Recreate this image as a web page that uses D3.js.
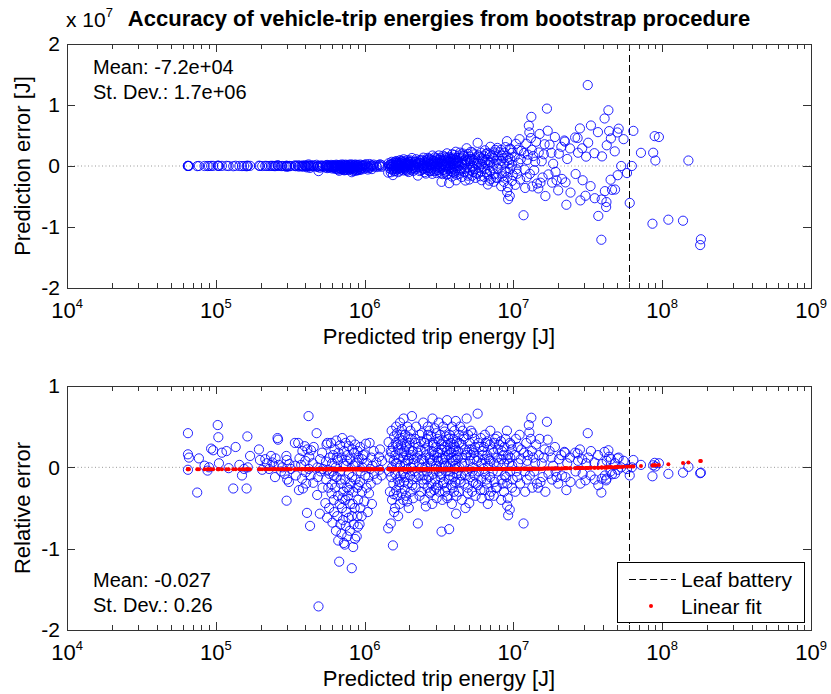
<!DOCTYPE html>
<html>
<head>
<meta charset="utf-8">
<script src="https://cdn.jsdelivr.net/npm/d3@7"></script>
<style>
  body { margin: 0; background: #fff; }
  text { font-family: "Liberation Sans", Arial, sans-serif; }
</style>
</head>
<body>
<script>
// trips as [predicted energy (J), relative error]; prediction error (J) = energy * relative error
var tripsShort = [
  [6.5e4,0.42],[6.5e4,0.16],[6.6e4,0.12],[6.5e4,-0.03],[7.5e4,-0.31],[7.7e4,0.11],[8.4e4,0.02],[8.8e4,-0.04],
  [9.0e4,0.00],[9.3e4,0.23],[9.6e4,0.21],[1.03e5,0.52],[1.04e5,0.37],[1.05e5,0.05],[1.10e5,0.18],[1.18e5,0.20],
  [1.22e5,-0.01],[1.31e5,-0.26],[1.36e5,0.25],[1.44e5,0.03],[1.50e5,-0.10],[1.55e5,-0.02],[1.61e5,-0.26],
  [1.63e5,0.38],[1.64e5,0.00],[1.70e5,0.14],[1.95e5,0.22],[1.98e5,0.09],[2.05e5,-0.03],[2.15e5,0.10],
  [2.20e5,0.05],[2.28e5,-0.02],[2.35e5,0.14],[2.40e5,0.06],[2.45e5,0.02],[2.50e5,-0.12],[2.52e5,0.11],
  [2.60e5,0.36],[2.62e5,0.34],[2.65e5,0.03],[2.75e5,-0.05],[2.80e5,0.00],[2.90e5,-0.08],[2.98e5,0.14],
  [3.00e5,0.09],[3.02e5,-0.15],[2.99e5,-0.41],[3.10e5,-0.18],[3.12e5,0.04],[3.20e5,-0.02]
];

var tripsMedium = [
  [3.40e5,0.30],[3.42e5,0.02],[3.45e5,-0.10],[3.58e5,0.30],[3.62e5,-0.28],[3.65e5,0.11],
  [3.75e5,0.03],[3.80e5,-0.14],[3.82e5,0.20],[3.85e5,-0.26],[3.96e5,0.26],[4.00e5,0.08],[4.02e5,-0.06],[4.05e5,-0.20],
  [4.10e5,-0.56],[4.12e5,0.22],[4.20e5,0.63],[4.22e5,-0.02],[4.25e5,0.13],[4.30e5,-0.72],[4.33e5,-0.10],[4.36e5,0.21],
  [4.48e5,0.05],[4.52e5,-0.19],[4.55e5,0.25],[4.76e5,0.42],[4.80e5,-0.34],[4.82e5,0.00],[4.85e5,-0.12],[4.90e5,-1.71],
  [5.00e5,-0.57],[5.02e5,0.10],[5.05e5,-0.05],[5.18e5,0.18],[5.22e5,-0.25],[5.25e5,-0.02],
  [5.45e5,-0.44],[5.50e5,0.07],[5.52e5,-0.15],[5.55e5,0.28],[5.60e5,-0.62],[5.62e5,0.30],[5.65e5,-0.03],
  [5.78e5,-0.50],[5.80e5,-0.08],[5.84e5,0.12],[5.95e5,0.30],[6.00e5,-0.32],[6.02e5,-0.21],[6.05e5,0.05],[6.08e5,-0.68],
  [6.15e5,0.15],[6.20e5,-0.40],[6.22e5,-0.10],[6.25e5,-0.55],[6.28e5,0.22],
  [6.35e5,-0.25],[6.40e5,0.00],[6.42e5,-0.78],[6.45e5,0.33],[6.48e5,-0.12],
  [6.55e5,-0.60],[6.60e5,0.09],[6.62e5,-0.35],[6.65e5,-0.90],[6.68e5,0.18],
  [6.75e5,-1.16],[6.80e5,-0.45],[6.82e5,-0.05],[6.85e5,0.27],[6.88e5,-0.70],
  [6.95e5,-0.20],[7.00e5,-0.82],[7.02e5,0.12],[7.05e5,-0.50],[7.08e5,0.36],
  [7.15e5,-0.65],[7.20e5,-0.30],[7.22e5,0.04],[7.25e5,-0.93],[7.28e5,0.20],
  [7.35e5,-0.95],[7.40e5,-0.15],[7.42e5,-0.40],[7.45e5,0.30],[7.48e5,-0.72],
  [7.55e5,-0.55],[7.60e5,0.08],[7.62e5,-0.25],[7.65e5,-0.85],[7.68e5,0.15],
  [7.75e5,-0.35],[7.80e5,-0.62],[7.82e5,0.26],[7.85e5,-0.08],
  [7.95e5,-0.78],[8.00e5,-0.45],[8.02e5,0.10],[8.05e5,-0.20],[8.08e5,0.33],
  [8.20e5,-1.24],[8.22e5,-0.60],[8.25e5,-0.12],[8.28e5,0.22],
  [8.38e5,-0.98],[8.40e5,-0.30],[8.42e5,0.02],[8.45e5,-0.70],[8.48e5,0.18],
  [8.58e5,-0.50],[8.62e5,-0.88],[8.65e5,0.28],[8.68e5,-0.15],
  [8.85e5,-0.85],[8.90e5,-0.25],[8.92e5,0.06],[8.95e5,-0.60],[8.98e5,0.20],
  [9.02e5,-0.73],[9.05e5,-0.40],[9.08e5,0.12],[9.25e5,-0.70],[9.30e5,-0.18],[9.33e5,0.25],[9.36e5,-0.50],
  [9.55e5,-0.60],[9.60e5,-0.30],[9.62e5,0.10],[9.65e5,0.00],
  [9.95e5,-0.42],[1.00e6,0.16],[1.01e6,-0.10],[1.02e6,0.29],[1.03e6,-0.25],[1.04e6,0.05],[1.05e6,-0.55],
  [1.07e6,-0.32],[1.08e6,0.30],[1.09e6,-0.02],[1.10e6,-0.20],[1.11e6,0.12],[1.12e6,-0.45],
  [1.15e6,0.20],[1.16e6,-0.08],[1.20e6,0.06],[1.21e6,-0.15],[1.25e6,0.13],[1.26e6,-0.03],[1.27e6,0.22],
  [1.30e6,-0.10],[1.31e6,0.08],
  [5.70e5,-0.25],[6.10e5,-0.05],[6.50e5,0.12],[6.90e5,-0.15],[7.10e5,-0.38],[7.50e5,0.02],[7.90e5,-0.28],
  [8.30e5,-0.45],[8.70e5,0.05],[9.10e5,-0.22],[9.40e5,-0.05],[9.80e5,0.15],[1.06e6,-0.12],[1.13e6,0.02]
];

var tripsLong = [
  [1.44e6,-0.75],[1.45e6,0.31],[1.46e6,-0.05],[1.47e6,0.12],[1.48e6,-0.30],
  [1.50e6,-0.69],[1.50e6,0.20],[1.51e6,-0.12],[1.52e6,0.45],[1.53e6,0.00],[1.53e6,-0.40],
  [1.55e6,-0.96],[1.55e6,0.25],[1.56e6,-0.20],[1.57e6,0.08],[1.58e6,-0.55],[1.58e6,0.38],
  [1.60e6,-0.50],[1.61e6,0.15],[1.61e6,-0.08],[1.62e6,0.30],[1.63e6,-0.28],[1.63e6,0.50],
  [1.65e6,0.42],[1.66e6,-0.35],[1.66e6,0.05],[1.67e6,-0.15],[1.68e6,0.22],[1.68e6,-0.60],
  [1.70e6,0.10],[1.71e6,-0.22],[1.71e6,0.35],[1.72e6,-0.45],[1.73e6,0.02],[1.73e6,0.55],
  [1.75e6,-0.10],[1.76e6,0.27],[1.77e6,-0.32],[1.78e6,0.18],[1.78e6,0.47],
  [1.80e6,0.33],[1.81e6,-0.05],[1.82e6,-0.40],[1.82e6,0.12],[1.83e6,0.60],[1.84e6,-0.18],
  [1.85e6,0.20],[1.86e6,-0.27],[1.87e6,0.40],[1.88e6,0.05],[1.88e6,-0.12],
  [1.90e6,-0.35],[1.91e6,0.15],[1.92e6,0.28],[1.93e6,-0.02],[1.94e6,0.50],
  [1.95e6,0.08],[1.96e6,-0.20],[1.97e6,0.37],[1.98e6,-0.50],[1.99e6,0.22],
  [2.00e6,0.30],[2.02e6,-0.10],[2.03e6,0.45],[2.04e6,-0.30],[2.05e6,0.00],[2.06e6,0.15],
  [2.08e6,0.63],[2.10e6,-0.15],[2.11e6,0.20],[2.12e6,-0.38],[2.14e6,0.10],
  [2.17e6,-0.05],[2.19e6,0.35],[2.20e6,-0.25],[2.22e6,0.50],[2.24e6,0.12],
  [2.28e6,-0.69],[2.30e6,0.25],[2.31e6,-0.10],[2.33e6,0.05],[2.35e6,0.40],
  [2.38e6,0.20],[2.40e6,-0.30],[2.42e6,0.10],[2.43e6,0.42],[2.45e6,-0.15],
  [2.48e6,0.55],[2.50e6,-0.20],[2.51e6,0.08],[2.53e6,-0.40],[2.54e6,0.30],[2.56e6,0.00],
  [2.58e6,-0.48],[2.60e6,0.15],[2.62e6,0.35],[2.63e6,-0.05],[2.65e6,-0.25],[2.66e6,0.50],
  [2.68e6,0.27],[2.70e6,-0.12],[2.72e6,0.45],[2.74e6,-0.32],[2.75e6,0.10],
  [2.78e6,0.05],[2.80e6,0.38],[2.81e6,-0.20],[2.83e6,0.20],[2.85e6,-0.45],[2.86e6,0.60],
  [2.88e6,0.30],[2.90e6,-0.08],[2.92e6,0.15],[2.94e6,-0.28],[2.96e6,0.48],
  [2.98e6,-0.15],[3.00e6,0.25],[3.02e6,0.02],[3.04e6,0.42],[3.05e6,-0.38],[3.07e6,0.12],
  [3.09e6,0.35],[3.11e6,-0.22],[3.13e6,0.08],[3.15e6,0.55],[3.16e6,-0.05],
  [3.18e6,-0.30],[3.20e6,0.18],[3.22e6,0.40],[3.24e6,-0.12],[3.25e6,0.00],[3.27e6,0.28],
  [3.29e6,-0.79],[3.31e6,0.22],[3.33e6,-0.40],[3.35e6,0.10],[3.37e6,0.50],
  [3.39e6,0.32],[3.41e6,-0.18],[3.43e6,0.05],[3.45e6,0.44],[3.47e6,-0.30],
  [3.49e6,0.12],[3.51e6,-0.05],[3.53e6,0.38],[3.55e6,-0.25],[3.57e6,0.20],[3.58e6,0.58],
  [3.60e6,-0.35],[3.62e6,0.28],[3.64e6,0.00],[3.66e6,0.15],[3.68e6,-0.15],
  [3.70e6,-0.76],[3.72e6,0.40],[3.74e6,-0.10],[3.76e6,0.22],[3.78e6,0.05],
  [3.80e6,0.30],[3.82e6,-0.22],[3.84e6,0.12],[3.86e6,-0.45],[3.88e6,0.50],
  [3.90e6,0.08],[3.93e6,0.35],[3.95e6,-0.12],[3.97e6,0.20],[3.99e6,-0.30],
  [4.01e6,0.45],[4.03e6,-0.02],[4.05e6,0.25],[4.07e6,-0.18],[4.09e6,0.10],
  [4.10e6,0.57],[4.12e6,-0.57],[4.14e6,0.15],[4.16e6,-0.08],[4.18e6,0.32],
  [4.25e6,0.20],[4.28e6,-0.30],[4.30e6,0.40],[4.33e6,0.00],[4.35e6,-0.15],[4.38e6,0.50],
  [4.45e6,-0.10],[4.48e6,0.28],[4.50e6,-0.40],[4.53e6,0.12],[4.56e6,0.45],
  [4.65e6,0.35],[4.68e6,-0.20],[4.70e6,0.05],[4.73e6,0.22],[4.76e6,-0.50],
  [4.85e6,0.60],[4.88e6,-0.05],[4.90e6,0.18],[4.93e6,-0.25],[4.96e6,0.40],
  [5.05e6,-0.44],[5.08e6,0.30],[5.10e6,0.08],[5.13e6,-0.12],[5.16e6,0.15],
  [5.25e6,0.22],[5.28e6,-0.30],[5.30e6,0.42],[5.33e6,0.00],[5.36e6,-0.18],
  [5.45e6,0.10],[5.48e6,0.35],[5.50e6,-0.10],[5.53e6,0.25],[5.56e6,-0.35],
  [5.75e6,0.66],[5.78e6,-0.22],[5.80e6,0.12],[5.83e6,0.30],[5.86e6,-0.05],
  [6.05e6,0.36],[6.08e6,-0.15],[6.10e6,0.05],[6.13e6,-0.38],[6.16e6,0.20],
  [6.35e6,0.25],[6.38e6,-0.28],[6.40e6,0.10],[6.43e6,0.40],[6.46e6,-0.08],
  [6.65e6,-0.20],[6.68e6,0.15],[6.70e6,0.32],[6.73e6,-0.45],[6.76e6,0.02],
  [6.95e6,0.28],[6.98e6,-0.12],[7.00e6,0.45],[7.03e6,0.08],[7.06e6,-0.30],
  [7.35e6,0.18],[7.38e6,-0.35],[7.40e6,0.05],[7.43e6,0.30],[7.46e6,-0.18],
  [7.75e6,-0.25],[7.78e6,0.12],[7.80e6,0.38],[7.83e6,-0.05],[7.86e6,0.22],
  [8.25e6,0.32],[8.28e6,-0.40],[8.30e6,0.10],[8.33e6,-0.15],[8.36e6,0.20],
  [8.65e6,-0.30],[8.68e6,0.05],[8.70e6,0.25],[8.73e6,-0.10],
  [9.05e6,0.45],[9.08e6,-0.47],[9.10e6,-0.20],[9.13e6,0.10],[9.18e6,-0.38],[9.20e6,0.15],[9.22e6,-0.59],
  [9.45e6,-0.52],[9.48e6,0.30],[9.50e6,-0.05],[9.53e6,0.12],[9.75e6,0.22],[9.78e6,-0.25],[9.80e6,0.02],
  [1.52e6,0.18],[1.57e6,-0.33],[1.62e6,0.05],[1.67e6,0.28],[1.72e6,-0.18],[1.77e6,0.40],[1.83e6,-0.08],
  [1.89e6,0.25],[1.93e6,-0.42],[1.99e6,0.10],[2.04e6,0.35],[2.09e6,-0.22],[2.13e6,0.05],[2.18e6,0.30],
  [2.23e6,-0.12],[2.27e6,0.18],[2.34e6,-0.35],[2.39e6,0.32],[2.44e6,0.00],[2.49e6,-0.10],[2.55e6,0.22],
  [2.61e6,-0.15],[2.67e6,0.40],[2.73e6,0.12],[2.79e6,-0.30],[2.84e6,0.08],[2.91e6,0.28],[2.97e6,-0.02],
  [3.03e6,-0.25],[3.10e6,0.18],[3.17e6,0.32],[3.23e6,-0.08],[3.30e6,0.12],[3.36e6,-0.20],[3.44e6,0.25],
  [3.52e6,0.02],[3.59e6,-0.38],[3.67e6,0.35],[3.75e6,-0.05],[3.83e6,0.18],[3.91e6,-0.25],[3.98e6,0.28],
  [4.06e6,0.02],[4.15e6,-0.35],[4.23e6,0.12],[4.32e6,0.30],[4.42e6,-0.18],[4.52e6,0.05],[4.62e6,0.38],
  [4.72e6,-0.10],[4.82e6,0.15],[4.95e6,-0.32],[5.06e6,0.22],[5.18e6,0.45],[5.31e6,-0.05],[5.42e6,0.18],
  [5.60e6,-0.20],[5.70e6,0.08],[5.92e6,0.25],[6.00e6,-0.28],[6.22e6,0.15],[6.30e6,-0.02],[6.52e6,0.30],
  [6.60e6,-0.15],[6.85e6,0.10],[6.90e6,-0.35],[7.15e6,0.22],[7.25e6,-0.05],[7.55e6,0.35],[7.62e6,-0.25],
  [7.95e6,0.05],[8.05e6,0.28],[8.45e6,-0.20],[8.55e6,0.15],[8.85e6,0.35],[8.95e6,-0.12],[9.35e6,0.05],
  [9.65e6,0.28],[9.90e6,-0.15]
];

var tripsVeryLong = [
  [1.02e7,0.15],[1.03e7,-0.30],[1.04e7,0.35],[1.06e7,-0.12],[1.07e7,0.25],[1.08e7,0.05],
  [1.10e7,0.40],[1.11e7,-0.20],[1.12e7,0.10],[1.17e7,-0.69],[1.18e7,0.18],[1.19e7,-0.05],
  [1.22e7,0.30],[1.23e7,-0.15],[1.24e7,0.08],[1.27e7,0.52],[1.28e7,0.43],[1.29e7,-0.10],
  [1.32e7,0.61],[1.33e7,0.20],[1.34e7,-0.25],[1.36e7,0.12],[1.38e7,-0.05],[1.42e7,0.28],[1.44e7,-0.20],
  [1.47e7,-0.25],[1.48e7,0.15],[1.50e7,0.35],[1.55e7,0.05],[1.57e7,-0.12],[1.62e7,0.22],[1.64e7,-0.30],
  [1.68e7,0.56],[1.70e7,0.34],[1.72e7,-0.08],[1.80e7,0.12],[1.82e7,-0.15],[1.90e7,0.25],[1.92e7,-0.05],
  [2.00e7,-0.20],[2.02e7,0.10],[2.10e7,0.15],[2.12e7,-0.10],[2.20e7,0.19],[2.22e7,0.18],[2.24e7,-0.12],
  [2.27e7,-0.28],[2.30e7,0.05],[2.40e7,0.12],[2.42e7,-0.18],[2.60e7,0.18],[2.62e7,-0.05],
  [2.70e7,0.17],[2.72e7,0.08],[2.80e7,0.22],[2.82e7,-0.20],[2.90e7,0.10],[2.92e7,-0.08],
  [3.05e7,-0.16],[3.08e7,0.05],[3.16e7,0.42],[3.18e7,0.12],[3.30e7,-0.10],[3.32e7,0.20],
  [3.50e7,0.06],[3.52e7,-0.15],[3.70e7,0.15],[3.72e7,-0.22],[3.90e7,-0.31],[3.92e7,-0.14],[3.94e7,0.04],
  [4.10e7,0.19],[4.12e7,-0.10],[4.20e7,-0.16],[4.22e7,-0.14],[4.24e7,0.08],[4.35e7,0.21],[4.40e7,0.13],
  [4.50e7,-0.05],[4.52e7,0.10],[4.60e7,-0.085],[4.80e7,0.05],[4.82e7,-0.08],[5.00e7,0.11],[5.02e7,-0.03],
  [5.10e7,0.12],[5.30e7,0.00],[5.50e7,0.08],[5.80e7,-0.02],
  [1.05e7,-0.05],[1.13e7,0.22],[1.20e7,-0.30],[1.25e7,0.15],[1.31e7,0.35],[1.40e7,0.05],[1.52e7,-0.18],
  [1.60e7,0.12],[1.75e7,0.20],[1.85e7,0.02],[1.95e7,-0.12]
];

var tripsBeyondBattery = [
  [6.05e7,-0.10],[6.25e7,0.00],[6.40e7,0.09],[7.20e7,0.03],[8.60e7,-0.11],[8.70e7,0.025],[8.90e7,0.055],
  [9.00e7,0.01],[9.50e7,0.05],[1.10e8,-0.08],[1.38e8,-0.065],[1.50e8,0.006],[1.80e8,-0.072],[1.82e8,-0.066]
];

var leafBattery = 6.05e7;          // J
var fitIntercept = -0.025;         // linear fit of relative error vs energy
var fitSlope = 5.7e-10;
var xDecades = [4, 5, 6, 7, 8, 9];
var topYTicks = [-2, -1, 0, 1, 2];
var bottomYTicks = [-2, -1, 0, 1];
var topStats = ["Mean: -7.2e+04", "St. Dev.: 1.7e+06"];
var bottomStats = ["Mean: -0.027", "St. Dev.: 0.26"];

var trips = [].concat(tripsShort, tripsMedium, tripsLong, tripsVeryLong, tripsBeyondBattery);

var svgWidth = 831, svgHeight = 694;
var left = 67, right = 811;

var svg = d3.select("body").append("svg")
    .attr("width", svgWidth)
    .attr("height", svgHeight);

var minorTicks = [];
xDecades.slice(0, -1).forEach(function (e) {
    for (var m = 2; m <= 9; m++) minorTicks.push(m * Math.pow(10, e));
});

function drawPanel(p) {
    var x = d3.scaleLog().domain([1e4, 1e9]).range([left, right]);
    var y = d3.scaleLinear().domain(p.yDomain).range([p.bottom, p.top]);
    var g = svg.append("g");

    // zero reference line
    g.append("line")
        .attr("x1", left).attr("x2", right)
        .attr("y1", y(0)).attr("y2", y(0))
        .attr("stroke", "#999").attr("stroke-dasharray", "1,2.5");

    // Leaf battery capacity
    g.append("line")
        .attr("x1", x(leafBattery)).attr("x2", x(leafBattery))
        .attr("y1", p.top).attr("y2", p.bottom)
        .attr("stroke", "#000").attr("stroke-dasharray", "7,3.5")
        .attr("shape-rendering", "crispEdges");

    g.append("g").selectAll("circle")
        .data(trips)
        .enter()
        .append("circle")
        .attr("cx", d => x(d[0]))
        .attr("cy", d => y(p.value(d)))
        .attr("r", 4.6)
        .attr("fill", "none")
        .attr("stroke", "#0000ff")
        .attr("stroke-width", 1)
        .attr("stroke-opacity", 0.85);

    if (p.fit) {
        g.append("g").selectAll("circle")
            .data(trips)
            .enter()
            .append("circle")
            .attr("cx", d => x(d[0]))
            .attr("cy", d => y(fitIntercept + fitSlope * d[0]))
            .attr("r", 2)
            .attr("fill", "#ff0000");
    }

    // box
    g.append("rect")
        .attr("x", left).attr("y", p.top)
        .attr("width", right - left).attr("height", p.bottom - p.top)
        .attr("fill", "none").attr("stroke", "#333")
        .attr("shape-rendering", "crispEdges");

    // ticks (inward, mirrored)
    var axes = [
        [d3.axisBottom(x), `translate(0,${p.bottom})`],
        [d3.axisTop(x), `translate(0,${p.top})`]
    ];
    axes.forEach(function (a) {
        g.append("g").attr("transform", a[1])
            .call(a[0].tickValues(minorTicks).tickSize(-5).tickFormat(""))
            .call(s => s.select(".domain").remove());
        g.append("g").attr("transform", a[1])
            .call(a[0].tickValues(xDecades.map(e => Math.pow(10, e))).tickSize(-8).tickFormat(""))
            .call(s => s.select(".domain").remove());
    });

    var yl = g.append("g").attr("transform", `translate(${left},0)`)
        .call(d3.axisLeft(y).tickValues(p.yTicks).tickSize(-8).tickPadding(7).tickFormat(d => String(d)))
        .call(s => s.select(".domain").remove());
    yl.selectAll("text").attr("font-size", 21).attr("font-family", "Liberation Sans, Arial, sans-serif").attr("fill", "#000");
    g.append("g").attr("transform", `translate(${right},0)`)
        .call(d3.axisRight(y).tickValues(p.yTicks).tickSize(-8).tickFormat(""))
        .call(s => s.select(".domain").remove());
    g.selectAll(".tick line").attr("stroke", "#333").attr("shape-rendering", "crispEdges");

    // decade labels 10^n
    xDecades.forEach(function (e) {
        var t = g.append("text")
            .attr("x", x(Math.pow(10, e)))
            .attr("y", p.bottom + 30)
            .attr("text-anchor", "middle")
            .attr("font-size", 22);
        t.append("tspan").text("10");
        t.append("tspan").attr("dy", -10).attr("font-size", 13).text(e);
    });

    // axis labels
    g.append("text")
        .attr("x", (left + right) / 2)
        .attr("y", p.bottom + 56)
        .attr("text-anchor", "middle")
        .attr("font-size", 22)
        .text("Predicted trip energy [J]");

    g.append("text")
        .attr("transform", `translate(30, ${(p.top + p.bottom) / 2}) rotate(-90)`)
        .attr("text-anchor", "middle")
        .attr("font-size", 22)
        .text(p.label);

    // stats
    p.stats.forEach(function (s, i) {
        g.append("text")
            .attr("x", 93)
            .attr("y", p.statsY + i * 24.5)
            .attr("font-size", 20)
            .text(s);
    });
}

drawPanel({
    top: 44, bottom: 288,
    yDomain: [-2, 2], yTicks: topYTicks,
    value: d => d[0] * d[1] / 1e7,
    label: "Prediction error [J]",
    stats: topStats, statsY: 74
});

drawPanel({
    top: 386, bottom: 630,
    yDomain: [-2, 1], yTicks: bottomYTicks,
    value: d => d[1],
    label: "Relative error",
    stats: bottomStats, statsY: 587,
    fit: true
});

// title and exponent
svg.append("text")
    .attr("x", 439).attr("y", 26)
    .attr("text-anchor", "middle")
    .attr("font-size", 22)
    .attr("font-weight", "bold")
    .text("Accuracy of vehicle-trip energies from bootstrap procedure");

var ex = svg.append("text").attr("x", 66).attr("y", 27).attr("font-size", 21);
ex.append("tspan").text("x 10");
ex.append("tspan").attr("dy", -10).attr("font-size", 13).text("7");

// legend
var lg = svg.append("g");
lg.append("rect")
    .attr("x", 617).attr("y", 562).attr("width", 187).attr("height", 60)
    .attr("fill", "#fff").attr("stroke", "#000")
    .attr("shape-rendering", "crispEdges");
lg.append("line")
    .attr("x1", 629).attr("x2", 676).attr("y1", 579.5).attr("y2", 579.5)
    .attr("stroke", "#000").attr("stroke-dasharray", "7,3.5");
lg.append("text").attr("x", 681).attr("y", 587).attr("font-size", 21).text("Leaf battery");
lg.append("circle").attr("cx", 651).attr("cy", 606).attr("r", 2).attr("fill", "#ff0000");
lg.append("text").attr("x", 681).attr("y", 614).attr("font-size", 21).text("Linear fit");
</script>
</body>
</html>
